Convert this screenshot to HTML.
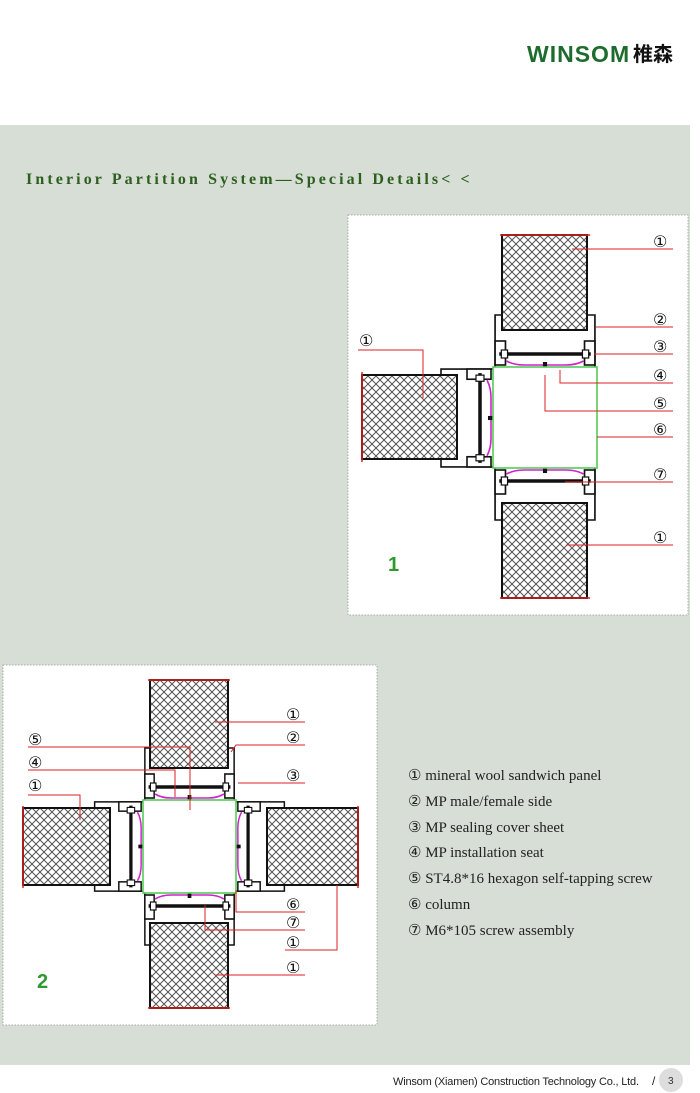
<!DOCTYPE html>
<html><head><meta charset="utf-8"><style>
html,body{margin:0;padding:0;background:#fff;}
svg{display:block;}
.n{font-family:"DejaVu Sans",sans-serif;font-size:16px;fill:#111;}
.lg{font-family:"Liberation Serif",serif;font-size:15px;fill:#222;}
</style></head><body>
<svg width="700" height="1093" viewBox="0 0 700 1093" xmlns="http://www.w3.org/2000/svg">
<defs>
<pattern id="h" width="8" height="8" patternUnits="userSpaceOnUse">
<rect width="8" height="8" fill="#fff"/>
<path d="M0,0 L8,8 M8,0 L0,8" stroke="#555" stroke-width="1"/>
</pattern>
<g id="cap" fill="none" stroke="#111" stroke-width="1.6">
<path d="M2,0 V-52 H9 M91,-52 H98 V0"/>
<rect x="2" y="-26" width="10" height="24" fill="#fff"/>
<rect x="88" y="-26" width="10" height="24" fill="#fff"/>
<line x1="6" y1="-13" x2="94" y2="-13" stroke-width="3.5"/>
<rect x="8" y="-17" width="6" height="8" fill="#fff" stroke-width="1.2"/>
<rect x="86" y="-17" width="6" height="8" fill="#fff" stroke-width="1.2"/>
<path d="M13,-6 Q20,-2 30,-2 H70 Q80,-2 87,-6" stroke="#d020d0" stroke-width="1.6"/>
<rect x="48" y="-5" width="4" height="15" fill="#111" stroke="none"/>
</g>
</defs>
<rect x="0" y="125" width="690" height="940" fill="#d6ded6"/>
<text x="527" y="62" font-family="Liberation Sans,sans-serif" font-weight="bold" font-size="23" fill="#1e6b2e" letter-spacing="1">WINSOM</text>
<text x="633" y="61" font-family="Liberation Sans,'Noto Sans CJK SC',sans-serif" font-weight="bold" font-size="20" fill="#111">椎森</text>
<text x="26" y="184" font-family="Liberation Serif,'Noto Serif CJK SC',serif" font-weight="bold" font-size="16" fill="#2d5e1e" letter-spacing="3.1">Interior Partition System—Special Details&lt; &lt;</text>

<!-- Diagram 1 -->
<rect x="348" y="215" width="340" height="400" fill="#fff" stroke="#aaa" stroke-dasharray="1.5,1.5"/>
<rect x="502" y="235" width="85" height="95" fill="url(#h)" stroke="#111" stroke-width="2"/>
<rect x="502" y="503" width="85" height="95" fill="url(#h)" stroke="#111" stroke-width="2"/>
<rect x="362" y="375" width="95" height="84" fill="url(#h)" stroke="#111" stroke-width="2"/>
<line x1="500" y1="235" x2="590" y2="235" stroke="#d22" stroke-width="1.5"/>
<line x1="500" y1="598" x2="590" y2="598" stroke="#d22" stroke-width="1.5"/>
<line x1="362" y1="372" x2="362" y2="462" stroke="#d22" stroke-width="1.5"/>
<use href="#cap" transform="translate(493,367) scale(1.04,1)"/>
<use href="#cap" transform="translate(493,468) scale(1.04,-1)"/>
<use href="#cap" transform="translate(493,469) rotate(-90) scale(1.02,1)"/>
<rect x="493" y="367" width="104" height="101" fill="#fff" stroke="#55cc55" stroke-width="1.6"/>
<g stroke="#d22" stroke-width="1" fill="none">
<polyline points="572,249 673,249"/>
<polyline points="596,327 673,327"/>
<polyline points="594,354 673,354"/>
<polyline points="560,370 560,383 673,383"/>
<polyline points="545,375 545,411 673,411"/>
<polyline points="597,437 673,437"/>
<polyline points="565,482 673,482"/>
<polyline points="566,545 673,545"/>
<polyline points="358,350 423,350 423,398"/>
</g>
<g class="n">
<text x="653" y="247">①</text><text x="653" y="325">②</text><text x="653" y="352">③</text>
<text x="653" y="381">④</text><text x="653" y="409">⑤</text><text x="653" y="435">⑥</text>
<text x="653" y="480">⑦</text><text x="653" y="543">①</text><text x="359" y="346">①</text>
</g>
<text x="388" y="571" font-family="Liberation Sans,sans-serif" font-weight="bold" font-size="20" fill="#2e9a2e">1</text>

<!-- Diagram 2 -->
<rect x="3" y="665" width="374" height="360" fill="#fff" stroke="#aaa" stroke-dasharray="1.5,1.5"/>
<rect x="150" y="680" width="78" height="88" fill="url(#h)" stroke="#111" stroke-width="2"/>
<rect x="150" y="923" width="78" height="85" fill="url(#h)" stroke="#111" stroke-width="2"/>
<rect x="23" y="808" width="87" height="77" fill="url(#h)" stroke="#111" stroke-width="2"/>
<rect x="267" y="808" width="91" height="77" fill="url(#h)" stroke="#111" stroke-width="2"/>
<line x1="148" y1="680" x2="230" y2="680" stroke="#d22" stroke-width="1.5"/>
<line x1="148" y1="1008" x2="230" y2="1008" stroke="#d22" stroke-width="1.5"/>
<line x1="23" y1="806" x2="23" y2="888" stroke="#d22" stroke-width="1.5"/>
<line x1="358" y1="806" x2="358" y2="888" stroke="#d22" stroke-width="1.5"/>
<use href="#cap" transform="translate(143,800) scale(0.93,1)"/>
<use href="#cap" transform="translate(143,893) scale(0.93,-1)"/>
<use href="#cap" transform="translate(143,893) rotate(-90) scale(0.93,0.93)"/>
<use href="#cap" transform="translate(236,800) rotate(90) scale(0.93,0.93)"/>
<rect x="143" y="800" width="93" height="93" fill="#fff" stroke="#55cc55" stroke-width="1.6"/>
<g stroke="#d22" stroke-width="1" fill="none">
<polyline points="215,722 305,722"/>
<polyline points="231,752 236,745 305,745"/>
<polyline points="238,783 305,783"/>
<polyline points="236,890 236,912 305,912"/>
<polyline points="205,905 205,930 305,930"/>
<polyline points="337,885 337,950 285,950"/>
<polyline points="215,975 305,975"/>
<polyline points="28,747 190,747 190,810"/>
<polyline points="28,770 175,770 175,797"/>
<polyline points="28,795 80,795 80,820"/>
</g>
<g class="n">
<text x="286" y="720">①</text><text x="286" y="743">②</text><text x="286" y="781">③</text>
<text x="286" y="910">⑥</text><text x="286" y="928">⑦</text><text x="286" y="948">①</text>
<text x="286" y="973">①</text>
<text x="28" y="745">⑤</text><text x="28" y="768">④</text><text x="28" y="791">①</text>
</g>
<text x="37" y="988" font-family="Liberation Sans,sans-serif" font-weight="bold" font-size="20" fill="#2e9a2e">2</text>

<g class="lg">
<text x="408" y="780">① mineral wool sandwich panel</text>
<text x="408" y="806">② MP male/female side</text>
<text x="408" y="832">③ MP sealing cover sheet</text>
<text x="408" y="857">④ MP installation seat</text>
<text x="408" y="883">⑤ ST4.8*16 hexagon self-tapping screw</text>
<text x="408" y="909">⑥ column</text>
<text x="408" y="935">⑦ M6*105 screw assembly</text>
</g>

<text x="393" y="1085" font-family="Liberation Sans,sans-serif" font-size="11" fill="#222" textLength="246">Winsom (Xiamen) Construction Technology Co., Ltd.</text>
<text x="652" y="1085" font-family="Liberation Sans,sans-serif" font-size="12" fill="#222">/</text>
<circle cx="671" cy="1080" r="12" fill="#ddd"/>
<text x="668" y="1084" font-family="Liberation Sans,sans-serif" font-size="10" fill="#333">3</text>
</svg>
</body></html>
